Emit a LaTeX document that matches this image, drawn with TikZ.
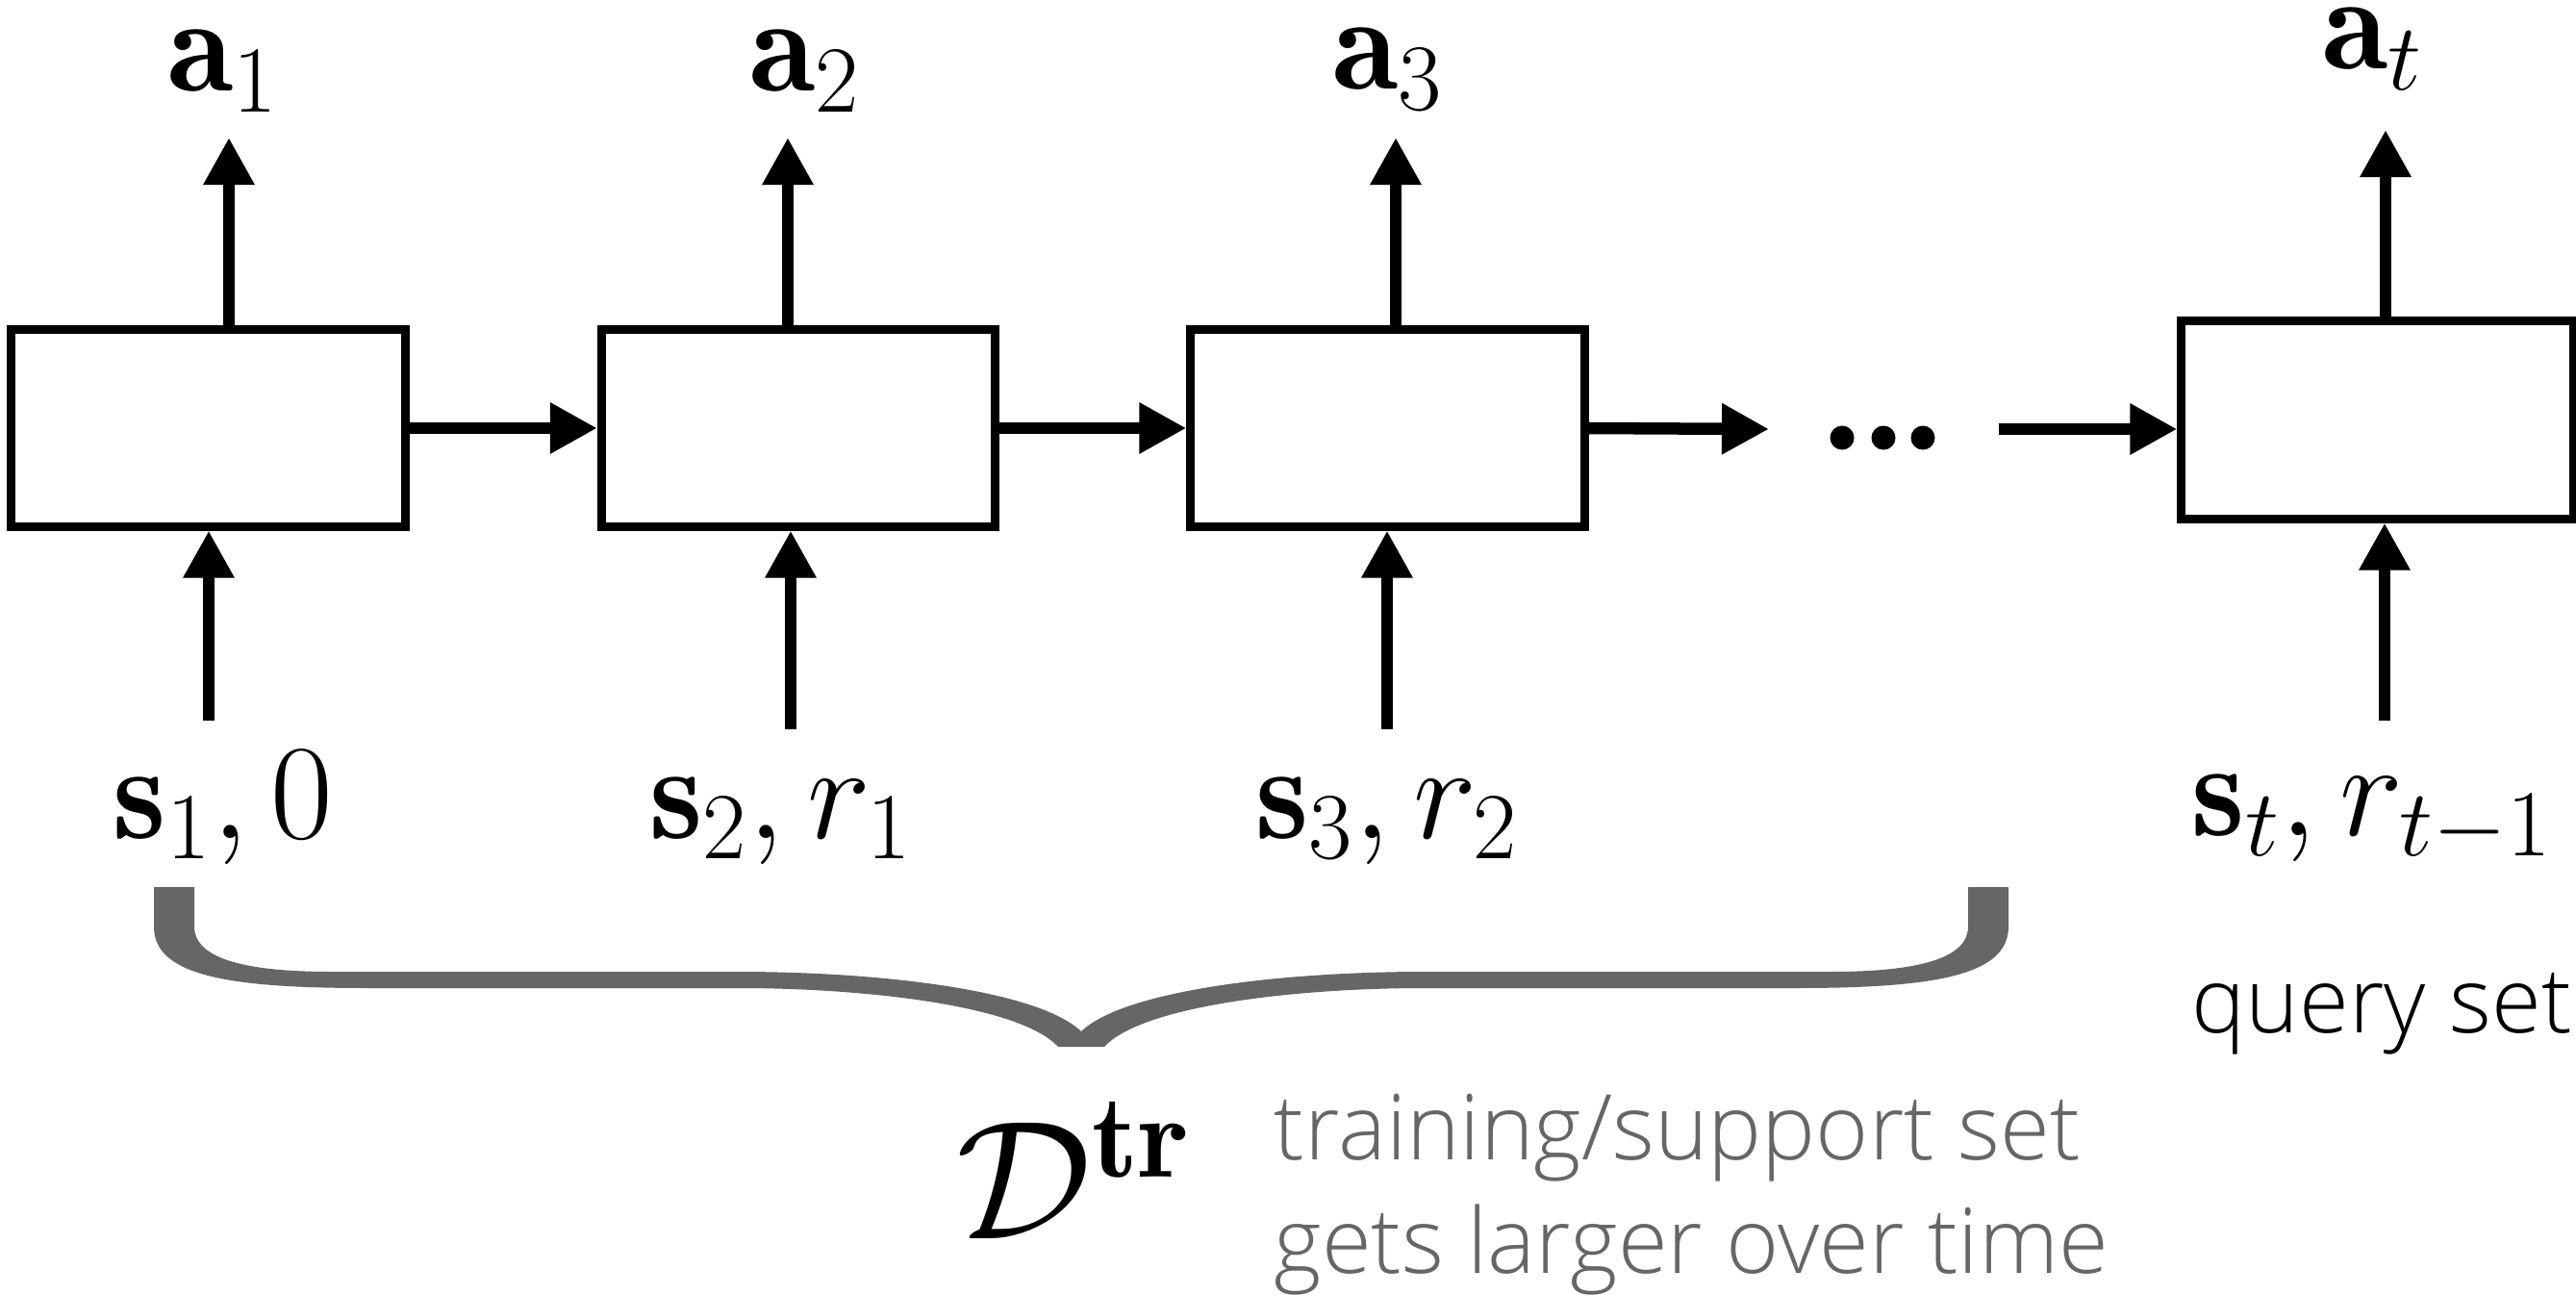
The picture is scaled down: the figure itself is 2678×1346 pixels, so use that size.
\RequirePackage{fix-cm}
\documentclass[tikz,border=0pt]{standalone}
\usepackage{fontspec}
\IfFontExistsTF{Open Sans Light}
  {\newfontfamily\labelfont{Open Sans Light}}
  {\newfontfamily\labelfont{Open Sans}}
\usetikzlibrary{arrows.meta}
\definecolor{bracegray}{HTML}{666666}
\begin{document}
\begin{tikzpicture}[x=0.01cm,y=-0.01cm,
  cell/.style={draw, line width=0.09cm, minimum width=4.09cm, minimum height=2.04cm, inner sep=0pt},
  arr/.style={line width=0.125cm, -{Triangle[length=0.49cm,width=0.5cm]}},
  lab/.style={inner sep=0pt, anchor=base, font=\fontsize{40}{48}\selectfont},
  note/.style={inner sep=0pt, anchor=base west, font=\labelfont\fontsize{26.8}{32}\selectfont}
]
\useasboundingbox (0,0) rectangle (2678,1346);

% boxes
\node[cell] (b1) at (216.5,445) {};
\node[cell] (b2) at (830,445) {};
\node[cell] (b3) at (1442.5,445) {};
\node[cell, minimum width=4.07cm, minimum height=2.05cm] (bt) at (2471.5,436.5) {};

% top labels
\node[lab] (a1) at (232,95) {$\mathbf{a}_1$};
\node[lab] (a2) at (837,95) {$\mathbf{a}_2$};
\node[lab] (a3) at (1443,93) {$\mathbf{a}_3$};
\node[lab] (at) at (2467,72) {$\mathbf{a}_t$};

% arrow end points
\coordinate (o1) at (238,143);
\coordinate (o2) at (819,143);
\coordinate (o3) at (1451,143);
\coordinate (ot) at (2480,135);
\draw[arr] (o1 |- b1.north) -- (o1);
\draw[arr] (o2 |- b2.north) -- (o2);
\draw[arr] (o3 |- b3.north) -- (o3);
\draw[arr] (ot |- bt.north) -- (ot);

% bottom inputs
\coordinate (i1) at (217,749);
\coordinate (i2) at (822,758);
\coordinate (i3) at (1442,758);
\coordinate (it) at (2479,749);
\draw[arr] (i1) -- (i1 |- b1.south);
\draw[arr] (i2) -- (i2 |- b2.south);
\draw[arr] (i3) -- (i3 |- b3.south);
\draw[arr] (it) -- (it |- bt.south);

% bottom labels
\node[lab] (s1) at (232,871) {$\mathbf{s}_1, 0$};
\node[lab] (s2) at (812,871) {$\mathbf{s}_2, r_1$};
\node[lab] (s3) at (1442,871) {$\mathbf{s}_3, r_2$};
\node[lab] (st) at (2466,868) {$\mathbf{s}_t, r_{t-1}$};

% horizontal arrows
\draw[arr] (b1.east) -- (b2.west);
\draw[arr] (b2.east) -- (b3.west);
\coordinate (d1) at (1839,446);
\coordinate (d2) at (2078,446);
\draw[arr] (b3.east) -- (d1);
\draw[arr] (d2) -- (d2 -| bt.west);

% dots
\fill (1915,455) circle[radius=0.125cm];
\fill (1958,455) circle[radius=0.125cm];
\fill (1999,455) circle[radius=0.125cm];

% brace
\fill[bracegray] (160,922) -- (160,963)
  .. controls (160,1012) and (230,1027) .. (380,1027)
  -- (766,1027)
  .. controls (900,1027) and (1060,1045) .. (1100,1088)
  -- (1148,1088)
  .. controls (1188,1045) and (1348,1027) .. (1482,1027)
  -- (1868,1027)
  .. controls (2018,1027) and (2088,1012) .. (2088,963)
  -- (2088,922) -- (2046,922) -- (2046,963)
  .. controls (2046,995) and (1998,1010) .. (1903,1010)
  -- (1482,1010)
  .. controls (1328,1010) and (1168,1030) .. (1124,1072)
  .. controls (1080,1030) and (920,1010) .. (766,1010)
  -- (345,1010)
  .. controls (250,1010) and (202,995) .. (202,963)
  -- (202,922) -- cycle;

% D^tr and notes
\node[inner sep=0pt, anchor=base, font=\fontsize{50}{60}\selectfont] (D) at (1116,1287) {$\mathcal{D}^{\mathbf{tr}}$};
\node[note, text=bracegray] (tr1) at (1324,1205) {training/support set};
\node[note, text=bracegray] (tr2) at (1324,1323) {gets larger over time};
\node[note] (q) at (2278,1073) {query set};
\end{tikzpicture}
\end{document}
